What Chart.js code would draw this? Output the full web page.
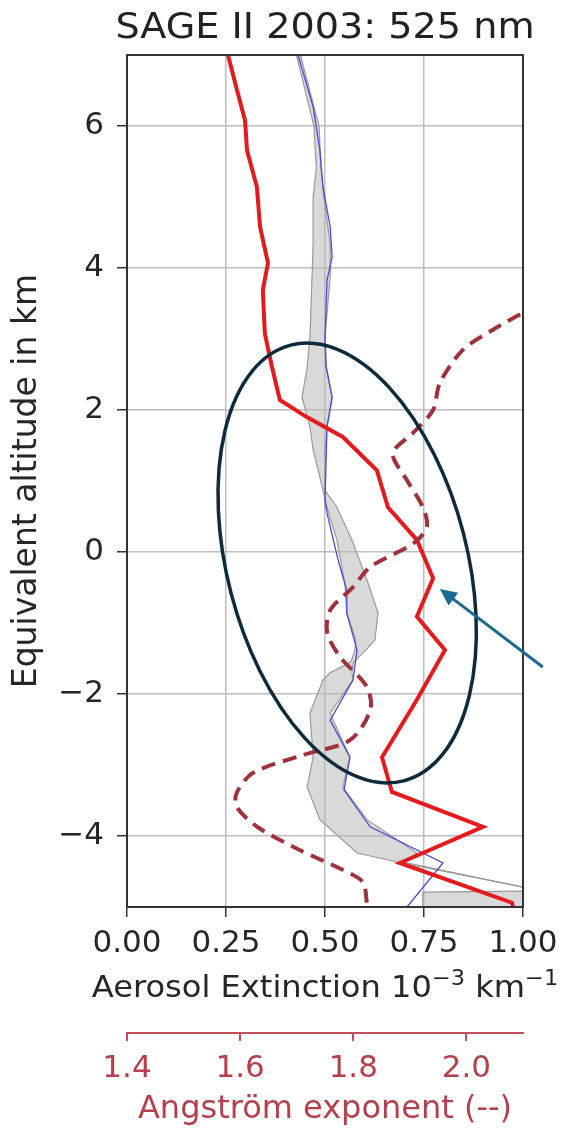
<!DOCTYPE html>
<html>
<head>
<meta charset="utf-8">
<script src="https://cdn.jsdelivr.net/npm/chart.js@4.4.0/dist/chart.umd.min.js"></script>
<style>
  html, body { margin: 0; padding: 0; background: #fff; }
</style>
</head>
<body>
<canvas id="myChart" width="566" height="1129"></canvas>
<script>
// profiles, top of the plot to the bottom (altitude in km)
var redAlt = [7.0, 6.5, 6.08, 5.66, 5.14, 4.58, 4.07, 3.69, 3.08, 2.61, 2.14, 1.90, 1.62, 1.15, 0.63, 0.17, -0.37, -0.91, -1.38, -2.08, -2.89, -3.38, -3.87, -4.38, -4.94, -5.0];
var redExt = [0.255, 0.278, 0.298, 0.303, 0.328, 0.336, 0.356, 0.343, 0.348, 0.366, 0.386, 0.454, 0.545, 0.631, 0.659, 0.732, 0.773, 0.732, 0.803, 0.732, 0.644, 0.669, 0.899, 0.689, 0.972, 0.975];

var blueAlt = [7.0, 6.27, 5.66, 5.14, 4.58, 4.15, 3.83, 2.99, 2.61, 2.18, 1.76, 0.73, 0.55, -0.11, -0.54, -0.86, -1.38, -1.80, -2.37, -2.89, -3.35, -3.87, -4.38, -5.0];
var blueExt = [0.432, 0.47, 0.487, 0.495, 0.513, 0.518, 0.505, 0.50, 0.503, 0.518, 0.505, 0.50, 0.505, 0.533, 0.555, 0.555, 0.581, 0.571, 0.513, 0.563, 0.548, 0.614, 0.798, 0.707];

// grey spread around the blue profile
var bandAlt = [7.0, 6.0, 5.4, 5.0, 4.35, 4.0, 3.03, 2.6, 2.18, 1.76, 1.44, 0.87, 0.63, 0.17, -0.44, -0.86, -1.24, -1.4, -1.55, -1.7, -1.8, -2.27, -2.89, -3.31, -3.77, -4.24, -4.37, -4.72, -4.76, -4.79, -5.0];
var bandLow = [0.428, 0.472, 0.478, 0.47, 0.47, 0.468, 0.462, 0.455, 0.442, 0.462, 0.47, 0.495, 0.505, 0.53, 0.55, 0.555, 0.578, 0.575, 0.565, 0.513, 0.495, 0.462, 0.47, 0.455, 0.487, 0.581, 0.685, 1.0, 1.3, 0.747, 0.747];
var bandHigh = [0.438, 0.485, 0.49, 0.497, 0.513, 0.515, 0.50, 0.503, 0.518, 0.505, 0.50, 0.50, 0.53, 0.568, 0.609, 0.634, 0.626, 0.60, 0.572, 0.568, 0.571, 0.513, 0.563, 0.545, 0.606, 0.732, 0.70, 1.0, 1.3, 1.3, 1.3];

// Angstrom exponent (dashed, lower red axis)
var angAlt = [3.37, 3.13, 2.85, 2.38, 2.0, 1.68, 1.39, 1.01, 0.63, 0.35, 0.12, -0.21, -0.49, -0.82, -1.14, -1.48, -1.90, -2.23, -2.65, -2.86, -3.11, -3.39, -3.59, -3.87, -4.20, -4.48, -4.65, -4.94];
var angExp = [2.10, 2.047, 1.994, 1.953, 1.941, 1.906, 1.870, 1.895, 1.923, 1.930, 1.906, 1.830, 1.80, 1.759, 1.754, 1.777, 1.824, 1.830, 1.794, 1.711, 1.623, 1.594, 1.594, 1.630, 1.706, 1.782, 1.817, 1.824];

var yTicks = [-4, -2, 0, 2, 4, 6];
var extTicks = [0, 0.25, 0.5, 0.75, 1.0];
var angTicks = [1.4, 1.6, 1.8, 2.0];

function profile(xs, alts) {
  return xs.map(function (v, i) { return { x: v, y: alts[i] }; }).reverse();
}

var FONT = 'DejaVu Sans';
var INK = '#262626';
var ANG = '#b5404b';

// frame around the plot (top and right sides too)
var frame = {
  id: 'frame',
  afterDatasetsDraw: function (chart) {
    var a = chart.chartArea, c = chart.ctx;
    c.save();
    c.strokeStyle = '#333';
    c.lineWidth = 2;
    c.strokeRect(a.left, a.top, a.right - a.left, a.bottom - a.top);
    c.restore();
  }
};

// text run made of pieces (for superscripts), centred, slightly widened like the source image
function drawRun(c, parts, cx, base, sx, color) {
  var total = 0;
  parts.forEach(function (p) {
    c.font = p.size + 'px "' + FONT + '"';
    p.w = c.measureText(p.text).width;
    total += p.w;
  });
  c.save();
  c.translate(cx, base);
  c.scale(sx, 1);
  c.fillStyle = color;
  c.textBaseline = 'alphabetic';
  c.textAlign = 'left';
  var x = -total / 2;
  parts.forEach(function (p) {
    c.font = p.size + 'px "' + FONT + '"';
    c.fillText(p.text, x, -(p.rise || 0));
    x += p.w;
  });
  c.restore();
}

// chart title and the extinction axis caption
var captions = {
  id: 'captions',
  afterDraw: function (chart) {
    var c = chart.ctx, xs = chart.scales.x, a = chart.chartArea;
    var mid = (a.left + a.right) / 2;
    drawRun(c, [{ text: 'SAGE II 2003: 525 nm', size: 36 }], mid, a.top - 17, 1.06, '#222');
    drawRun(c, [
      { text: 'Aerosol Extinction 10', size: 30 },
      { text: '\u22123', size: 21, rise: 12 },
      { text: ' km', size: 30 },
      { text: '\u22121', size: 21, rise: 12 }
    ], mid, xs.top + 90, 1.07, INK);
  }
};

// hand drawn ellipse + arrow on top of the figure
var marks = {
  id: 'marks',
  afterDraw: function (chart) {
    var xs = chart.scales.x, ys = chart.scales.y, c = chart.ctx;
    c.save();
    var cx = xs.getPixelForValue(0.556), cy = ys.getPixelForValue(-0.155);
    var rx = xs.getPixelForValue(0.303) - xs.getPixelForValue(0);
    var ry = ys.getPixelForValue(0) - ys.getPixelForValue(3.17);
    c.beginPath();
    c.ellipse(cx, cy, rx, ry, -0.254, 0, 2 * Math.PI);
    c.strokeStyle = '#0e2a3d';
    c.lineWidth = 3.5;
    c.stroke();

    var tx = xs.getPixelForValue(1.05), ty = ys.getPixelForValue(-1.62);
    var hx = xs.getPixelForValue(0.79), hy = ys.getPixelForValue(-0.52);
    var ang = Math.atan2(hy - ty, hx - tx);
    var len = 17, half = 8;
    c.strokeStyle = '#1d6a90';
    c.fillStyle = '#1d6a90';
    c.lineWidth = 3;
    c.beginPath();
    c.moveTo(tx, ty);
    c.lineTo(hx - Math.cos(ang) * len * 0.8, hy - Math.sin(ang) * len * 0.8);
    c.stroke();
    c.beginPath();
    c.moveTo(hx, hy);
    c.lineTo(hx - Math.cos(ang) * len + Math.sin(ang) * half, hy - Math.sin(ang) * len - Math.cos(ang) * half);
    c.lineTo(hx - Math.cos(ang) * len - Math.sin(ang) * half, hy - Math.sin(ang) * len + Math.cos(ang) * half);
    c.closePath();
    c.fill();
    c.restore();
  }
};

var ctx = document.getElementById('myChart').getContext('2d');
var chart = new Chart(ctx, {
  type: 'line',
  data: {
    datasets: [
      {
        label: 'spread low',
        data: profile(bandLow, bandAlt),
        xAxisID: 'x',
        borderColor: '#9a9a9a',
        borderWidth: 1.2,
        pointRadius: 0,
        fill: false,
        order: 5
      },
      {
        label: 'spread high',
        data: profile(bandHigh, bandAlt),
        xAxisID: 'x',
        borderColor: '#9a9a9a',
        borderWidth: 1.2,
        backgroundColor: 'rgba(185,185,185,0.55)',
        pointRadius: 0,
        fill: '-1',
        order: 4
      },
      {
        label: 'blue',
        data: profile(blueExt, blueAlt),
        xAxisID: 'x',
        borderColor: '#4a4ad2',
        borderWidth: 1.3,
        pointRadius: 0,
        fill: false,
        order: 3
      },
      {
        label: 'red',
        data: profile(redExt, redAlt),
        xAxisID: 'x',
        borderColor: '#e41a1c',
        borderWidth: 4,
        pointRadius: 0,
        fill: false,
        order: 2
      },
      {
        label: 'Angstrom',
        data: profile(angExp, angAlt),
        xAxisID: 'xA',
        borderColor: '#a0323c',
        borderWidth: 4,
        borderDash: [14, 8],
        tension: 0.3,
        pointRadius: 0,
        fill: false,
        order: 1
      }
    ]
  },
  options: {
    responsive: false,
    animation: false,
    events: [],
    indexAxis: 'y',
    layout: { padding: { left: 0, right: 43, top: 55, bottom: 0 } },
    plugins: {
      legend: { display: false },
      tooltip: { enabled: false },
      title: { display: false },
      filler: { drawTime: 'beforeDatasetsDraw' }
    },
    scales: {
      y: {
        type: 'linear',
        position: 'left',
        min: -5,
        max: 7,
        afterBuildTicks: function (s) { s.ticks = yTicks.map(function (v) { return { value: v }; }); },
        afterFit: function (s) { s.width = 127; },
        ticks: {
          color: INK,
          padding: 13,
          font: { family: FONT, size: 31 },
          callback: function (v) { return v < 0 ? '\u2212' + Math.abs(v) : String(v); }
        },
        grid: { color: '#bdbdbd', lineWidth: 1.5, tickLength: 10, tickColor: '#333' },
        border: { color: '#333', width: 2 },
        title: {
          display: true,
          text: 'Equivalent altitude in km',
          color: INK,
          font: { family: FONT, size: 33 },
          padding: { top: 8, bottom: 0 }
        }
      },
      x: {
        type: 'linear',
        axis: 'x',
        position: 'bottom',
        min: 0,
        max: 1,
        afterBuildTicks: function (s) { s.ticks = extTicks.map(function (v) { return { value: v }; }); },
        afterFit: function (s) { s.height = 126; },
        ticks: {
          color: INK,
          padding: 8,
          maxRotation: 0,
          autoSkip: false,
          font: { family: FONT, size: 31 },
          callback: function (v) { return Number(v).toFixed(2); }
        },
        grid: { color: '#bdbdbd', lineWidth: 1.5, tickLength: 10, tickColor: '#333' },
        border: { color: '#333', width: 2 },
        title: { display: false }
      },
      xA: {
        type: 'linear',
        axis: 'x',
        position: 'bottom',
        min: 1.4,
        max: 2.1,
        afterBuildTicks: function (s) { s.ticks = angTicks.map(function (v) { return { value: v }; }); },
        afterFit: function (s) { s.height = 96; },
        ticks: {
          color: ANG,
          padding: 9,
          maxRotation: 0,
          autoSkip: false,
          font: { family: FONT, size: 31 },
          callback: function (v) { return Number(v).toFixed(1); }
        },
        grid: { drawOnChartArea: false, color: '#c0505a', lineWidth: 2, tickLength: 8 },
        border: { color: '#c0505a', width: 2 },
        title: {
          display: true,
          text: 'Angstr\u00F6m exponent (--)',
          color: ANG,
          font: { family: FONT, size: 32 },
          padding: { top: 0, bottom: 0 }
        }
      }
    }
  },
  plugins: [frame, captions, marks]
});
</script>
</body>
</html>
